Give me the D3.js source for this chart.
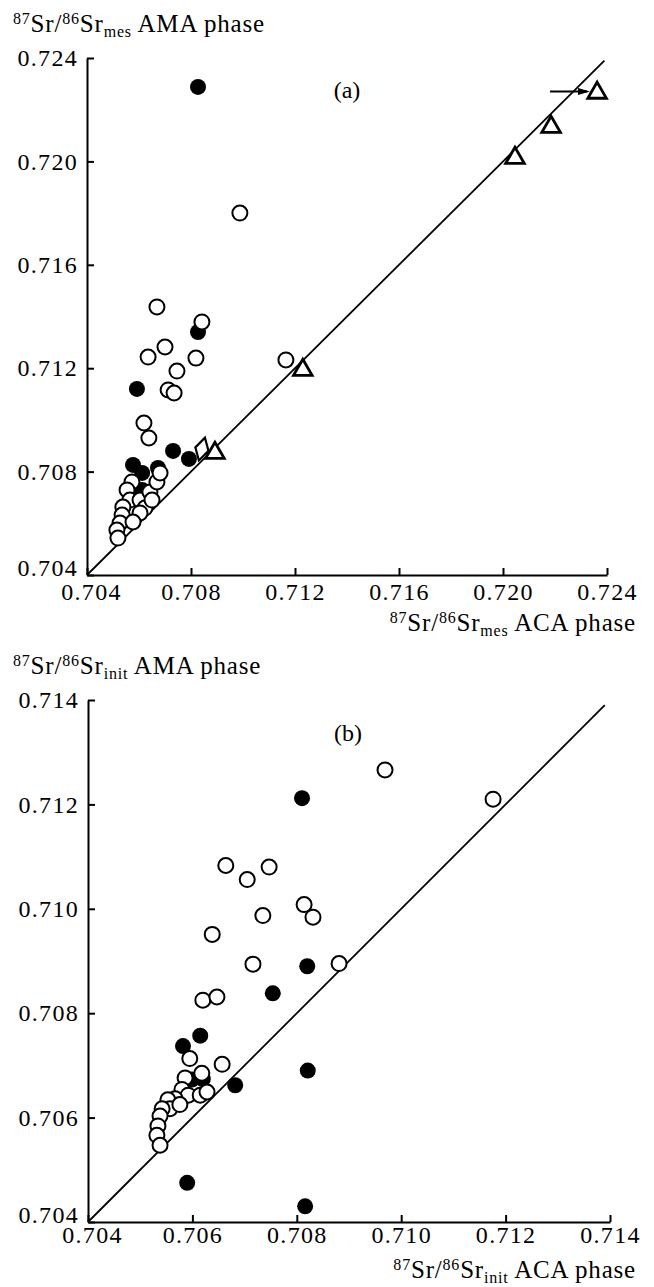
<!DOCTYPE html>
<html>
<head>
<meta charset="utf-8">
<script src="https://cdn.jsdelivr.net/npm/d3@7"></script>
<style>
  body { margin: 0; background: #fff; }
  text { font-family: "Liberation Serif", "Times New Roman", serif; fill: #000; }
</style>
</head>
<body>
<svg id="chart" width="654" height="1287"></svg>
<script>
// ---- panel (a): measured ratios ----
var aOpenX = [0.70988, 0.70669, 0.70842, 0.70700, 0.70635, 0.70819, 0.71165, 0.70746, 0.70712, 0.70735,
              0.70619, 0.70638, 0.70573, 0.70554, 0.70565, 0.70538, 0.70535, 0.70527, 0.70515, 0.70519,
              0.70604, 0.70623, 0.70642, 0.70669, 0.70681, 0.70650, 0.70604, 0.70577];
var aOpenY = [0.71800, 0.71437, 0.71379, 0.71282, 0.71243, 0.71239, 0.71232, 0.71189, 0.71116, 0.71104,
              0.70988, 0.70930, 0.70760, 0.70729, 0.70690, 0.70663, 0.70632, 0.70601, 0.70574, 0.70543,
              0.70690, 0.70659, 0.70721, 0.70760, 0.70795, 0.70690, 0.70640, 0.70605];
var aFilledX = [0.70827, 0.70827, 0.70592, 0.70731, 0.70792, 0.70577, 0.70612, 0.70673, 0.70612];
var aFilledY = [0.72288, 0.71340, 0.71120, 0.70880, 0.70849, 0.70826, 0.70795, 0.70814, 0.70729];
var aTriX = [0.71230, 0.70892, 0.72046, 0.72185, 0.72362];
var aTriY = [0.71193, 0.70872, 0.72013, 0.72133, 0.72265];
var aDiamondX = [0.70842];
var aDiamondY = [0.70887];
var aArrowX = [0.72181, 0.72323];
var aArrowY = [0.72270, 0.72270];
var aTicks = [0.704, 0.708, 0.712, 0.716, 0.720, 0.724];
var aLineEnd = 0.7239;

// ---- panel (b): initial ratios ----
var bOpenX = [0.70969, 0.71176, 0.70664, 0.70705, 0.70747, 0.70814, 0.70831, 0.70735, 0.70638, 0.70716,
              0.70881, 0.70620, 0.70647, 0.70595, 0.70657, 0.70618, 0.70586, 0.70580, 0.70592, 0.70615,
              0.70628, 0.70567, 0.70553, 0.70557, 0.70542, 0.70538, 0.70576, 0.70534, 0.70532, 0.70538];
var bOpenY = [0.71266, 0.71210, 0.71083, 0.71056, 0.71080, 0.71008, 0.70984, 0.70987, 0.70951, 0.70894,
              0.70895, 0.70825, 0.70831, 0.70713, 0.70702, 0.70685, 0.70676, 0.70654, 0.70643, 0.70643,
              0.70649, 0.70636, 0.70634, 0.70617, 0.70617, 0.70603, 0.70625, 0.70584, 0.70566, 0.70547];
var bFilledX = [0.70810, 0.70820, 0.70754, 0.70615, 0.70582, 0.70620, 0.70599, 0.70682, 0.70821, 0.70590, 0.70816];
var bFilledY = [0.71212, 0.70890, 0.70838, 0.70757, 0.70737, 0.70674, 0.70673, 0.70662, 0.70690, 0.70475, 0.70430];
var bTicks = [0.704, 0.706, 0.708, 0.710, 0.712, 0.714];
var bLineEnd = 0.7139;

var svg = d3.select("#chart");

function zip(xs, ys) {
  return xs.map(function (x, i) { return {x: x, y: ys[i]}; });
}

// title like 87Sr/86Sr(sub) rest
function sciTitle(g, x, y, anchor, sub, rest) {
  var t = g.append("text")
    .attr("x", x).attr("y", y)
    .attr("text-anchor", anchor)
    .style("font-size", "25px")
    .style("letter-spacing", "0.8px");
  t.append("tspan").text("87").style("font-size", "16px").attr("dy", "-8");
  t.append("tspan").text("Sr/").attr("dy", "8");
  t.append("tspan").text("86").style("font-size", "16px").attr("dy", "-8");
  t.append("tspan").text("Sr").attr("dy", "8");
  t.append("tspan").text(sub).style("font-size", "16px").attr("dy", "5");
  t.append("tspan").text(" " + rest).attr("dy", "-5");
}

function panel(opt) {
  var g = svg.append("g");
  var x = d3.scaleLinear().domain([opt.ticks[0], opt.ticks[opt.ticks.length - 1]]).range([opt.left, opt.right]);
  var y = d3.scaleLinear().domain([opt.ticks[0], opt.ticks[opt.ticks.length - 1]]).range([opt.bottom, opt.top]);

  var xAxis = g.append("g")
    .attr("transform", "translate(0," + opt.bottom + ")")
    .call(d3.axisBottom(x).tickValues(opt.ticks).tickFormat(d3.format(".3f")).tickSizeInner(-7).tickSizeOuter(0).tickPadding(opt.xPad));
  var yAxis = g.append("g")
    .attr("transform", "translate(" + opt.left + ",0)")
    .call(d3.axisLeft(y).tickValues(opt.ticks).tickFormat(d3.format(".3f")).tickSizeInner(-7).tickSizeOuter(0).tickPadding(9));
  [xAxis, yAxis].forEach(function (ax) {
    ax.select(".domain").attr("stroke", "#000").attr("stroke-width", 2);
    ax.selectAll(".tick line").attr("stroke", "#000").attr("stroke-width", 2);
    ax.selectAll(".tick text")
      .style("font-size", "24px")
      .style("letter-spacing", "1.3px")
      .style("font-family", "'Liberation Serif', serif")
      .attr("fill", "#000");
  });
  xAxis.selectAll(".tick text").filter(function (d, i) { return i === 0; }).attr("x", 4);
  // lowest y label sits a little above the corner
  yAxis.selectAll(".tick text").filter(function (d, i) { return i === 0; }).attr("y", -7);

  // 1:1 line
  g.append("line")
    .attr("x1", x(opt.ticks[0])).attr("y1", y(opt.ticks[0]))
    .attr("x2", x(opt.lineEnd)).attr("y2", y(opt.lineEnd))
    .attr("stroke", "#000").attr("stroke-width", 1.8);

  // filled circles
  g.selectAll(".filled")
    .data(zip(opt.filledX, opt.filledY))
    .enter().append("circle")
    .attr("cx", function (d) { return x(d.x); })
    .attr("cy", function (d) { return y(d.y); })
    .attr("r", 8)
    .attr("fill", "#000");

  // open circles
  g.selectAll(".open")
    .data(zip(opt.openX, opt.openY))
    .enter().append("circle")
    .attr("cx", function (d) { return x(d.x); })
    .attr("cy", function (d) { return y(d.y); })
    .attr("r", 7.5)
    .attr("fill", "#fff")
    .attr("stroke", "#000")
    .attr("stroke-width", 2);

  if (opt.triX) {
    var tri = d3.symbol().type(d3.symbolTriangle).size(150);
    g.selectAll(".tri")
      .data(zip(opt.triX, opt.triY))
      .enter().append("path")
      .attr("d", tri)
      .attr("transform", function (d) { return "translate(" + x(d.x) + "," + y(d.y) + ")"; })
      .attr("fill", "#fff")
      .attr("stroke", "#000")
      .attr("stroke-width", 2.8);

    var dia = d3.symbol().type(d3.symbolDiamond).size(160);
    g.selectAll(".dia")
      .data(zip(opt.diamondX, opt.diamondY))
      .enter().append("path")
      .attr("d", dia)
      .attr("transform", function (d) { return "translate(" + x(d.x) + "," + y(d.y) + ") rotate(15)"; })
      .attr("fill", "#fff")
      .attr("stroke", "#000")
      .attr("stroke-width", 2.2);

    // arrow
    var ax0 = x(opt.arrowX[0]), ax1 = x(opt.arrowX[1]), ay = y(opt.arrowY[0]);
    g.append("line")
      .attr("x1", ax0).attr("y1", ay).attr("x2", ax1).attr("y2", ay)
      .attr("stroke", "#000").attr("stroke-width", 2);
    g.append("path")
      .attr("d", "M" + (ax1 + 3) + "," + ay + "L" + (ax1 - 9) + "," + (ay - 3.5) + "L" + (ax1 - 9) + "," + (ay + 3.5) + "Z")
      .attr("fill", "#000");
  }

  g.append("text")
    .attr("x", opt.tagX).attr("y", opt.tagY)
    .attr("text-anchor", "middle")
    .style("font-size", "24px")
    .text(opt.tag);

  sciTitle(g, 13, opt.top - 26, "start", opt.sub, "AMA phase");
  sciTitle(g, 636, opt.bottom + opt.titleGap, "end", opt.sub, "ACA phase");
}

panel({
  ticks: aTicks, left: 87, right: 607, top: 58, bottom: 575, xPad: 8, titleGap: 56,
  openX: aOpenX, openY: aOpenY, filledX: aFilledX, filledY: aFilledY,
  triX: aTriX, triY: aTriY, diamondX: aDiamondX, diamondY: aDiamondY,
  arrowX: aArrowX, arrowY: aArrowY, lineEnd: aLineEnd,
  tag: "(a)", tagX: 347, tagY: 98, sub: "mes"
});

panel({
  ticks: bTicks, left: 88, right: 610, top: 700, bottom: 1222, xPad: 4, titleGap: 56,
  openX: bOpenX, openY: bOpenY, filledX: bFilledX, filledY: bFilledY,
  lineEnd: bLineEnd,
  tag: "(b)", tagX: 348, tagY: 741, sub: "init"
});
</script>
</body>
</html>
